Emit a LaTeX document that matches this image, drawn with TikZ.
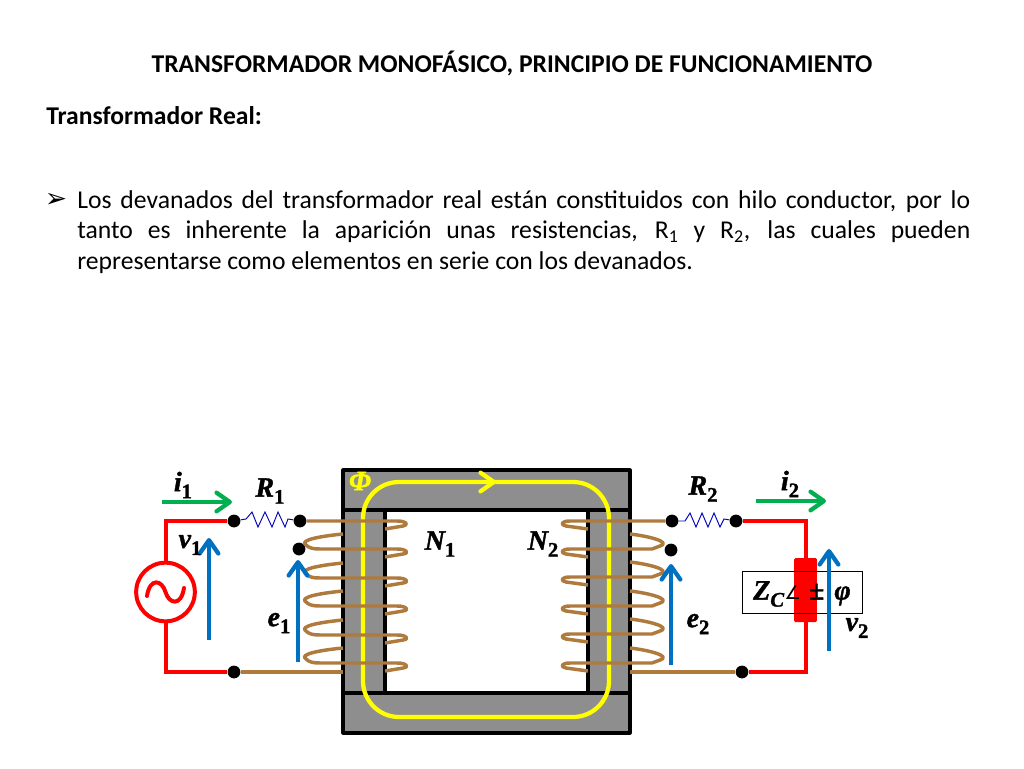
\documentclass[tikz,border=0pt]{standalone}
\usepackage{fontspec}
\setmainfont{Carlito}
\newfontfamily\mathserif{Liberation Serif}[BoldItalicFeatures={FakeBold=1.4},BoldFeatures={FakeBold=1.4}]
\newfontfamily\dejavu{DejaVu Sans}
\usetikzlibrary{arrows.meta}
\definecolor{corefill}{HTML}{8E8E8E}
\definecolor{coilbrown}{HTML}{AE7A3E}
\definecolor{wirered}{HTML}{FF0000}
\definecolor{voltblue}{HTML}{0070C0}
\definecolor{currgreen}{HTML}{00B050}
\definecolor{fluxyellow}{HTML}{FFFF00}
\newcommand{\sym}[2]{{\mathserif\bfseries\itshape #1}\raisebox{-0.25em}{\mathserif\bfseries\fontsize{15.5}{17}\selectfont #2}}
\tikzset{
  x=0.75pt,y=-0.75pt,
  titletext/.style={font=\bfseries\fontsize{19.2}{23}\selectfont,inner sep=0pt},
  bodytext/.style={font=\fontsize{19.25}{22.9}\selectfont,inner sep=0pt},
  eqlabel/.style={font=\fontsize{21}{24}\selectfont,inner sep=0pt},
  terminal/.style={circle,fill=black,draw=none,minimum size=9.6pt,inner sep=0pt},
  corepart/.style={fill=corefill,draw=black,line width=2.6pt,line join=round},
  coil/.style={draw=coilbrown,line width=2.6pt,line join=round},
  wire/.style={draw=wirered,line width=3pt,line join=miter},
  resist/.style={draw=blue!75!black,line width=0.7pt},
  voltarrow/.style={draw=voltblue,line width=3.2pt,-{Straight Barb[length=10pt,width=14pt,round]}},
  currarrow/.style={draw=currgreen,line width=3.2pt,-{Straight Barb[length=10pt,width=14pt,round]}},
  flux/.style={draw=fluxyellow,line width=3.2pt,rounded corners=27pt},
}
\begin{document}
\begin{tikzpicture}
\useasboundingbox (0,0) rectangle (1024,768);
% text
\node[titletext] (title) at (512,63) {TRANSFORMADOR MONOFÁSICO, PRINCIPIO DE FUNCIONAMIENTO};
\node[titletext,anchor=west] (sub) at (46,115.5) {Transformador Real:};
\node[bodytext,anchor=center] (bullet) at (56,200) {\dejavu\fontsize{20}{22}\selectfont ➢};
\node[bodytext,anchor=north west,text width=669.75pt,align=justify] (para) at (77,190)
 {Los devanados del transformador real están constituidos con hilo conductor, por lo\linebreak
  tanto es inherente la aparición unas resistencias, R\textsubscript{1} y R\textsubscript{2}, las cuales pueden\linebreak
  representarse como elementos en serie con los devanados.};
% core
\node[corepart,draw,minimum width=215pt,minimum height=197pt,inner sep=0pt] (core) at (486.5,601.5) {};
\draw[line width=2.6pt] (343,510) -- (630,510) (343,693) -- (630,693);
\fill[white] (385,510) rectangle (588,693);
\draw[line width=2.6pt,line join=round] (385,510) rectangle (588,693);
% flux loop
\draw[flux] (500,482) -- (609,482) -- (609,717) -- (363,717) -- (363,482) -- (500,482);
\coordinate (fluxa) at (420,482);
\coordinate (fluxb) at (496,482);
\draw[draw=fluxyellow,line width=3.2pt,-{Straight Barb[length=10pt,width=14pt,round]}] (fluxa) -- (fluxb);
% terminals
\node[terminal] (a1) at (234,521) {};
\node[terminal] (a2) at (300,521) {};
\node[terminal] (a3) at (299,549) {};
\node[terminal] (a4) at (234,672) {};
\node[terminal] (b1) at (672,521) {};
\node[terminal] (b2) at (736,521) {};
\node[terminal] (b3) at (671,550) {};
\node[terminal] (b4) at (742,672) {};
% primary coil
\coordinate (lp) at (343,672);
\coordinate (lrp) at (385,529);
\draw[coil] (a2) -- (397,521) .. controls (405,521) and (410,524) .. (403,526) -- (lrp);
\foreach \y in {549,578,606,635,663}{
  \draw[coil] (343,\y-15) .. controls (322,\y-13) and (298,\y-9) .. (306,\y-4)
     .. controls (309,\y-1) and (313,\y) .. (320,\y) -- (397,\y)
     .. controls (408,\y) and (409,\y+5) .. (403,\y+5) -- (385,\y+8);
}
\draw[coil] (a4) -- (lp);
% secondary coil
\coordinate (ls) at (630,672);
\draw[coil] (b1) -- (570,521) .. controls (561,521) and (560,525) .. (566,526) -- (588,529);
\foreach \y in {549,577,606,634,663}{
  \draw[coil] (630,\y-15) .. controls (648,\y-13) and (672,\y-7) .. (660,\y-3)
     -- (652,\y) -- (570,\y)
     .. controls (561,\y) and (560,\y+4) .. (566,\y+5) -- (588,\y+8);
}
\draw[coil] (b4) -- (ls);
% source
\node[circle,draw=wirered,line width=3pt,minimum size=44pt,inner sep=0pt,fill=white] (src) at (165.5,592) {};
\draw[wire] (a1) -| (src.north);
\draw[wire] (a4) -| (src.south);
\draw[draw=wirered,line width=3pt,line cap=round] (147,596) .. controls (150,577) and (162,580) .. (165.5,592) .. controls (169,604) and (181,607) .. (184,588);
% resistors
\draw[resist] (a1) -- (246,519) -- (252,512) -- (258,527) -- (265,512) -- (272,527) -- (278,512) -- (285,527) -- (288,519) -- (a2);
\draw[resist] (b1) -- (685,521) -- (690,513) -- (696,527) -- (702,513) -- (708,527) -- (714,513) -- (720,527) -- (724,519) -- (b2);
% load
\node[draw=none,fill=wirered,rounded corners=1pt,minimum width=17pt,minimum height=48pt,inner sep=0pt] (load) at (805.5,590) {};
\draw[wire] (b2) -| (load.north);
\draw[wire] (b4) -| (load.south);
\node[draw=black,line width=0.6pt,minimum width=90pt,minimum height=31pt,inner sep=0pt] (zbox) at (802,592.5) {};
\node[eqlabel] (zlab) at (802,594) {\sym{Z}{\textit{C}}{\dejavu\fontsize{14}{20}\selectfont ∠}\hspace{6pt}{\mathserif\bfseries ±}\hspace{7.5pt}{\mathserif\bfseries\itshape φ}};
% voltage arrows
\coordinate (v1s) at (209,640); \coordinate (v1e) at (209,538);
\coordinate (e1s) at (298,662); \coordinate (e1e) at (298,560);
\coordinate (e2s) at (671,665); \coordinate (e2e) at (671,564);
\coordinate (v2s) at (829,651); \coordinate (v2e) at (829,549);
\draw[voltarrow] (v1s) -- (v1e);
\draw[voltarrow] (e1s) -- (e1e);
\draw[voltarrow] (e2s) -- (e2e);
\draw[voltarrow] (v2s) -- (v2e);
% current arrows
\coordinate (i1s) at (162,502); \coordinate (i1e) at (232,502);
\coordinate (i2s) at (756,501); \coordinate (i2e) at (826,501);
\draw[currarrow] (i1s) -- (i1e);
\draw[currarrow] (i2s) -- (i2e);
% labels
\node[eqlabel] (li1) at (183,485) {\sym{i}{1}};
\node[eqlabel] (lR1) at (270,491) {\sym{R}{1}};
\node[eqlabel] (lv1) at (190,545) {\sym{v}{1}};
\node[eqlabel] (le1) at (279,623) {\sym{e}{1}};
\node[eqlabel,text=fluxyellow] (lphi) at (360,481) {{\mathserif\bfseries\itshape Φ}};
\node[eqlabel] (lN1) at (440,544) {\sym{N}{1}};
\node[eqlabel] (lN2) at (543,544) {\sym{N}{2}};
\node[eqlabel] (lR2) at (703,489) {\sym{R}{2}};
\node[eqlabel] (li2) at (790,484) {\sym{i}{2}};
\node[eqlabel] (le2) at (698,624) {\sym{e}{2}};
\node[eqlabel] (lv2) at (857,628) {\sym{v}{2}};
\end{tikzpicture}
\end{document}
